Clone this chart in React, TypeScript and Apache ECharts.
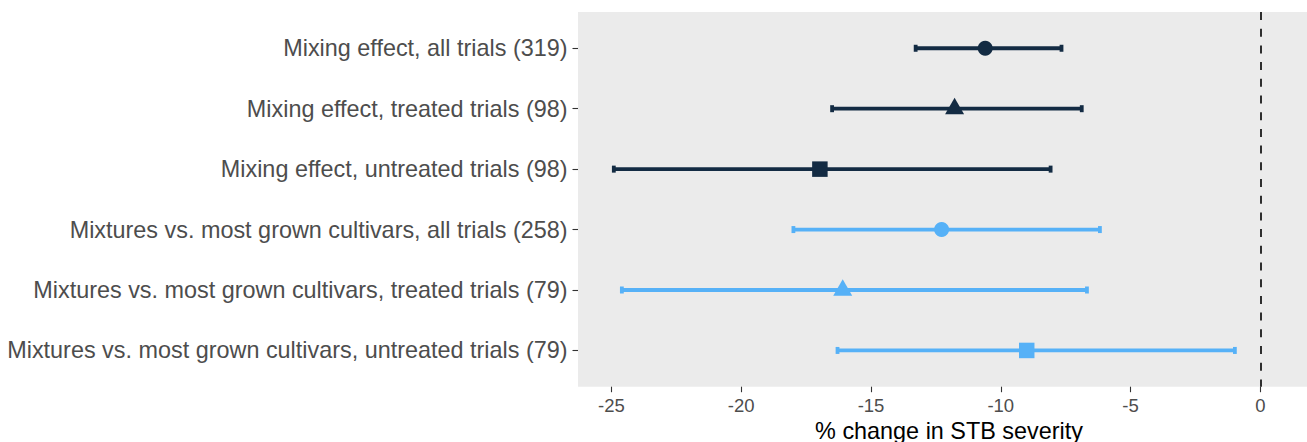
import React, { useEffect, useRef } from "react";
import * as echarts from "echarts";

const categories = [
  "Mixing effect, all trials (319)",
  "Mixing effect, treated trials (98)",
  "Mixing effect, untreated trials (98)",
  "Mixtures vs. most grown cultivars, all trials (258)",
  "Mixtures vs. most grown cultivars, treated trials (79)",
  "Mixtures vs. most grown cultivars, untreated trials (79)",
];
const estimates = [-10.6, -11.78, -16.97, -12.28, -16.09, -9.0];
const lower = [-13.28, -16.5, -24.91, -17.99, -24.6, -16.29];
const upper = [-7.66, -6.88, -8.08, -6.18, -6.68, -0.98];
const groupIndex = [0, 0, 0, 1, 1, 1];
const shapes = ["circle", "triangle", "rect", "circle", "triangle", "rect"];
const xTicks = [-25, -20, -15, -10, -5, 0];

const groupColors = ["#132B43", "#56B1F7"];
const FONT = "'Liberation Sans', Arial, sans-serif";

export default function App() {
  const ref = useRef<HTMLDivElement>(null);
  useEffect(() => {
    if (!ref.current) return;
    const chart = echarts.init(ref.current, undefined, { renderer: "svg" });
    const rowPos = categories.map((_, i) => i + 1);
    const barData = rowPos.map((p, i) => [p, lower[i], upper[i], groupIndex[i]]);
    const pointData = rowPos.map((p, i) => {
      const s = shapes[i];
      const size = s === "triangle" ? [19, 16.5] : s === "rect" ? 15.5 : 15;
      return {
        value: [estimates[i], p],
        symbol: s,
        symbolSize: size,
        symbolOffset: s === "triangle" ? [0, -2.6] : [0, 0],
        itemStyle: { color: groupColors[groupIndex[i]], opacity: 1 },
      };
    });
    chart.setOption({
      animation: false,
      grid: {
        left: 578,
        top: 12,
        right: -13,
        bottom: 55.3,
        show: true,
        backgroundColor: "#EBEBEB",
        borderWidth: 0,
        containLabel: false,
        outerBoundsMode: "none",
      },
      xAxis: {
        type: "value",
        min: -26.29,
        max: 2.3,
        name: "% change in STB severity",
        nameLocation: "middle",
        nameGap: 33,
        nameTextStyle: { color: "#000000", fontSize: 23.4, fontFamily: FONT },
        axisLine: { show: false, onZero: false },
        splitLine: { show: false },
        axisTick: {
          show: true,
          length: 5.5,
          customValues: xTicks,
          lineStyle: { color: "#333333", width: 1.1 },
        },
        axisLabel: {
          customValues: xTicks,
          color: "#4D4D4D",
          fontSize: 18.5,
          fontFamily: FONT,
          margin: 9,
          formatter: (v: number) => String(v),
        },
      },
      yAxis: {
        type: "value",
        min: 0.4,
        max: 6.6,
        inverse: true,
        axisLine: { show: false, onZero: false },
        splitLine: { show: false },
        axisTick: {
          show: true,
          length: 5.5,
          customValues: rowPos,
          lineStyle: { color: "#333333", width: 1.1 },
        },
        axisLabel: {
          customValues: rowPos,
          color: "#4D4D4D",
          fontSize: 23.4,
          fontFamily: FONT,
          margin: 10.5,
          formatter: (v: number) => categories[Math.round(v) - 1] ?? "",
        },
      },
      series: [
        {
          type: "custom",
          data: barData,
          encode: { x: [1, 2], y: 0 },
          renderItem: (params: any, api: any) => {
            const y = api.value(0);
            const lo = api.value(1);
            const hi = api.value(2);
            const color = groupColors[api.value(3)];
            const p1 = api.coord([lo, y]);
            const p2 = api.coord([hi, y]);
            const capH = 3.5;
            const st = { stroke: color, lineWidth: 3.8 };
            return {
              type: "group",
              children: [
                { type: "line", shape: { x1: p1[0], y1: p1[1], x2: p2[0], y2: p2[1] }, style: st },
                { type: "line", shape: { x1: p1[0], y1: p1[1] - capH, x2: p1[0], y2: p1[1] + capH }, style: st },
                { type: "line", shape: { x1: p2[0], y1: p2[1] - capH, x2: p2[0], y2: p2[1] + capH }, style: st },
              ],
            };
          },
          z: 2,
        },
        {
          type: "scatter",
          data: pointData,
          z: 3,
          markLine: {
            silent: true,
            symbol: ["none", "none"],
            label: { show: false },
            lineStyle: { color: "#000000", width: 1.6, type: [8, 8.7], opacity: 1 },
            data: [{ xAxis: 0 }],
          },
        },
      ],
    });
    return () => chart.dispose();
  }, []);
  return (
    <div
      ref={ref}
      style={{ position: "fixed", left: 0, top: 0, width: 1307, height: 442, background: "#ffffff" }}
    />
  );
}
